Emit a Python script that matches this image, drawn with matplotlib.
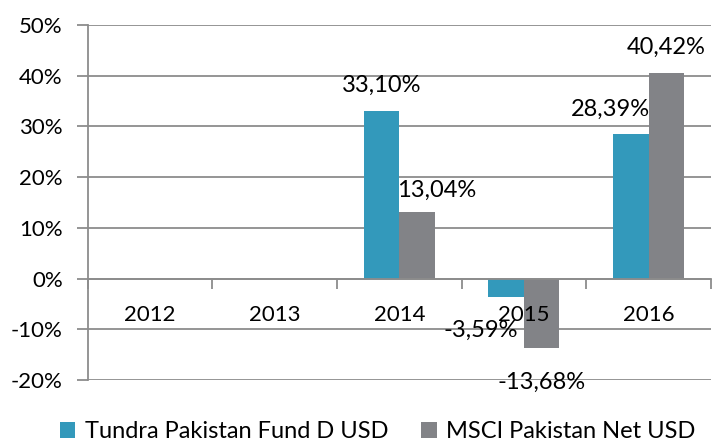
import numpy as np
import matplotlib.pyplot as plt

years = ["2012", "2013", "2014", "2015", "2016"]
fund = [np.nan, np.nan, 33.10, -3.59, 28.39]
msci = [np.nan, np.nan, 13.04, -13.68, 40.42]
fund_labels = ["", "", "33,10%", "-3,59%", "28,39%"]
msci_labels = ["", "", "13,04%", "-13,68%", "40,42%"]

# label offsets in points (dx, dy) relative to bar end
fund_off = [(0, 0), (0, 0), (0, 18), (-18, -24), (-15, 18)]
msci_off = [(0, 0), (0, 0), (14, 16), (0, -25), (0, 19)]

plt.rcParams["font.family"] = ["Lato", "DejaVu Sans"]
teal = "#3399BB"
grey = "#828387"
line = "#8C8C8C"
fs = 16

fig = plt.figure(figsize=(7.13, 4.43), dpi=100)
ax = fig.add_axes([0.123, 0.142, 0.874, 0.802])

for v in range(-20, 51, 10):
    ax.axhline(v, color=line, linewidth=1.3, zorder=0)

x = np.arange(len(years))
w = 0.285
ax.bar(x - w / 2, fund, w, color=teal, label="Tundra Pakistan Fund D USD", zorder=1)
ax.bar(x + w / 2, msci, w, color=grey, label="MSCI Pakistan Net USD", zorder=1)

for i in range(len(years)):
    if not np.isnan(fund[i]):
        ax.annotate(fund_labels[i], (x[i] - w / 2, fund[i]), xytext=fund_off[i],
                    textcoords="offset points", ha="center", va="center", fontsize=17, zorder=5)
    if not np.isnan(msci[i]):
        ax.annotate(msci_labels[i], (x[i] + w / 2, msci[i]), xytext=msci_off[i],
                    textcoords="offset points", ha="center", va="center", fontsize=17, zorder=5)

ax.set_ylim(-20, 50)
ax.set_xlim(-0.5, len(years) - 0.5)
ax.set_yticks(np.arange(-20, 51, 10))
ax.set_yticklabels([f"{v}%" for v in range(-20, 51, 10)], fontsize=fs)
ax.tick_params(axis="y", length=8, width=1.3, color=line, pad=10)

ax.spines["bottom"].set_position(("data", 0))
ax.spines["bottom"].set_color(line)
ax.spines["bottom"].set_linewidth(1.3)
ax.spines["left"].set_color(line)
ax.spines["left"].set_linewidth(1.3)
ax.spines["top"].set_visible(False)
ax.spines["right"].set_visible(False)

ax.set_xticks(x)
ax.set_xticklabels(years, fontsize=fs)
ax.set_xticks(np.arange(-0.5, len(years), 1), minor=True)
ax.tick_params(axis="x", which="major", length=0, pad=19)
ax.tick_params(axis="x", which="minor", length=7, width=1.3, color=line)

fig.legend(loc="center", bbox_to_anchor=(0.53, 0.025), ncol=2, frameon=False,
           fontsize=17, handlelength=0.65, handleheight=0.65, handletextpad=0.4,
           columnspacing=1.4)

fig.savefig("out.png", dpi=100)
